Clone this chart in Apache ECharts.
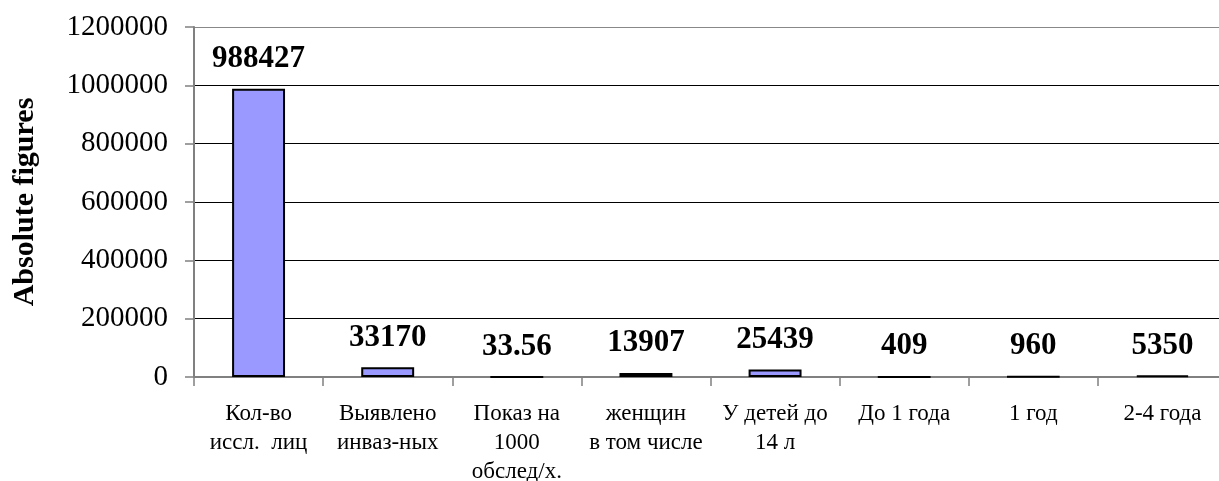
<!DOCTYPE html>
<html>
<head>
<meta charset="utf-8">
<script src="https://cdn.jsdelivr.net/npm/echarts@6/dist/echarts.min.js"></script>
<style>
html,body{margin:0;padding:0;background:#fff;}
#c{width:1219px;height:481px;}
</style>
</head>
<body>
<div id="c"></div>
<script>
const categories = ['Кол-во\nиссл.  лиц', 'Выявлено\nинваз-ных', 'Показ на\n1000\nобслед/х.', 'женщин\nв том числе', 'У детей до\n14 л', 'До 1 года', '1 год', '2-4 года'];
const values = [988427, 33170, 33.56, 13907, 25439, 409, 960, 5350];
const yTicks = { min: 0, max: 1200000, interval: 200000 };
const yTitle = 'Absolute figures';

const FONT = '"Liberation Serif", "Times New Roman", serif';
const chart = echarts.init(document.getElementById('c'), null, { renderer: 'canvas' });
chart.setOption({
  animation: false,
  backgroundColor: '#fff',
  grid: { left: 194, top: 27, width: 1033, height: 350, containLabel: false, outerBoundsMode: 'none' },
  xAxis: {
    type: 'category',
    data: categories,
    boundaryGap: true,
    axisLine: { lineStyle: { color: '#808080', width: 2 } },
    axisTick: { show: true, length: 9, lineStyle: { color: '#808080', width: 1.5 } },
    axisLabel: { fontFamily: FONT, fontSize: 23, color: '#000', lineHeight: 29, margin: 22, interval: 0 }
  },
  yAxis: {
    type: 'value',
    min: yTicks.min, max: yTicks.max, interval: yTicks.interval,
    name: yTitle,
    nameLocation: 'middle',
    nameGap: 154,
    nameRotate: 90,
    nameTextStyle: { fontFamily: FONT, fontSize: 30, fontWeight: 'bold', color: '#000' },
    axisLine: { show: true, lineStyle: { color: '#808080', width: 2 } },
    axisTick: { show: true, length: 9, lineStyle: { color: '#808080', width: 1.5 } },
    axisLabel: { fontFamily: FONT, fontSize: 29, color: '#000', margin: 26, formatter: v => String(v) },
    splitLine: { show: true, lineStyle: { color: ['#000', '#000', '#000', '#000', '#000', '#000', '#888'], width: 1.2 } }
  },
  series: [{
    type: 'bar',
    data: values,
    barWidth: '41%',
    itemStyle: { color: '#9999FF', borderColor: '#000', borderWidth: 2 },
    label: {
      show: true,
      position: 'top',
      distance: 14,
      fontFamily: FONT,
      fontSize: 31,
      fontWeight: 'bold',
      color: '#000',
      formatter: p => String(p.value)
    }
  }]
});
</script>
</body>
</html>
